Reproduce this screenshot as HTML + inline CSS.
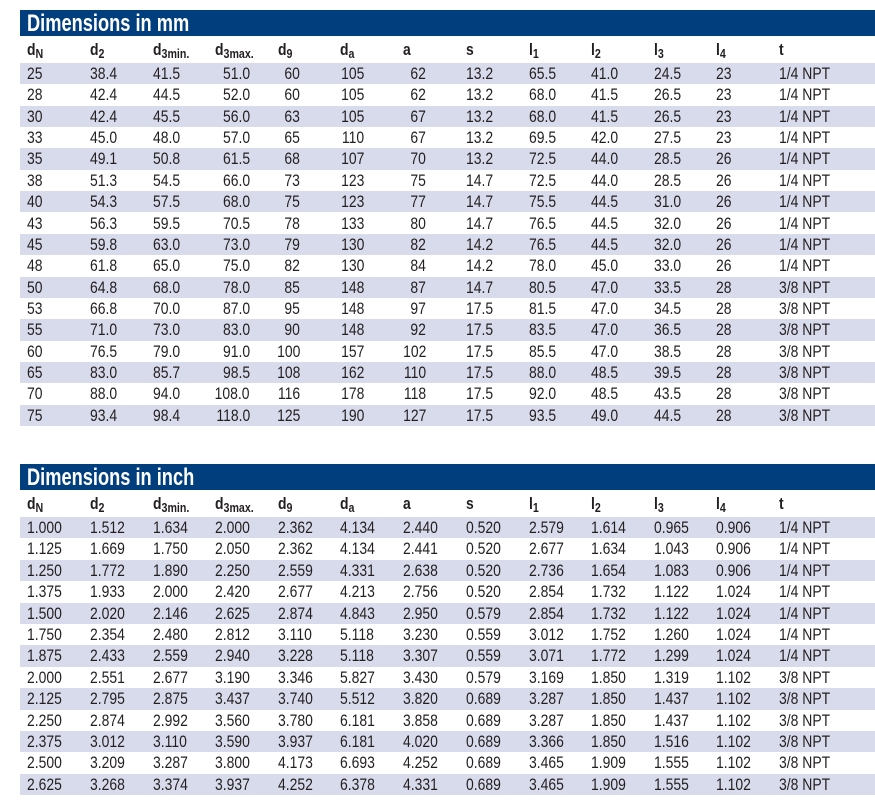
<!DOCTYPE html>
<html><head><meta charset="utf-8"><style>
body{margin:0;width:875px;height:808px;background:#fff;position:relative;overflow:hidden;font-family:"Liberation Sans",Arial,sans-serif;color:#231f20}
.bar{position:absolute;left:20px;width:855px;height:26px;background:#003e7e}
.bar span{position:absolute;left:7px;top:0;line-height:27px;font-size:24px;font-weight:bold;color:#fff;transform:scaleX(.76);transform-origin:left;white-space:nowrap}
.row{position:absolute;left:0;width:875px;height:21.4px}
.row.b{background:linear-gradient(to right,transparent 20px,#d8dbeb 20px)}
.row span{position:absolute;top:0;line-height:22px;font-size:17px;transform:scaleX(.82);transform-origin:left;white-space:nowrap}
.row span.R{transform-origin:right}
.h span{font-weight:bold;font-size:17px}
.h sub{font-size:13px;vertical-align:-3px}
.c1{left:27px}.c2{left:90px}.c3{left:153px}.c4{left:215px}.c5{left:278px}.c6{left:340px}.c7{left:403px}.c8{left:466px}.c9{left:529px}.c10{left:591px}.c11{left:654px}.c12{left:716px}.c13{left:779px}
.m .r4{right:625px}.m .r5{right:575px}.m .r6{right:511px}.m .r7{right:449px}
</style></head><body>
<div class="bar" style="top:10px"><span>Dimensions in mm</span></div>
<div class="row h" style="top:39px"><span class="c1">d<sub>N</sub></span><span class="c2">d<sub>2</sub></span><span class="c3">d<sub>3min.</sub></span><span class="c4">d<sub>3max.</sub></span><span class="c5">d<sub>9</sub></span><span class="c6">d<sub>a</sub></span><span class="c7">a</span><span class="c8">s</span><span class="c9">l<sub>1</sub></span><span class="c10">l<sub>2</sub></span><span class="c11">l<sub>3</sub></span><span class="c12">l<sub>4</sub></span><span class="c13">t</span></div>
<div class="m">
<div class="row b" style="top:63.0px"><span class="c1">25</span><span class="c2">38.4</span><span class="c3">41.5</span><span class="R r4">51.0</span><span class="R r5">60</span><span class="R r6">105</span><span class="R r7">62</span><span class="c8">13.2</span><span class="c9">65.5</span><span class="c10">41.0</span><span class="c11">24.5</span><span class="c12">23</span><span class="c13">1/4 NPT</span></div>
<div class="row" style="top:84.4px"><span class="c1">28</span><span class="c2">42.4</span><span class="c3">44.5</span><span class="R r4">52.0</span><span class="R r5">60</span><span class="R r6">105</span><span class="R r7">62</span><span class="c8">13.2</span><span class="c9">68.0</span><span class="c10">41.5</span><span class="c11">26.5</span><span class="c12">23</span><span class="c13">1/4 NPT</span></div>
<div class="row b" style="top:105.7px"><span class="c1">30</span><span class="c2">42.4</span><span class="c3">45.5</span><span class="R r4">56.0</span><span class="R r5">63</span><span class="R r6">105</span><span class="R r7">67</span><span class="c8">13.2</span><span class="c9">68.0</span><span class="c10">41.5</span><span class="c11">26.5</span><span class="c12">23</span><span class="c13">1/4 NPT</span></div>
<div class="row" style="top:127.1px"><span class="c1">33</span><span class="c2">45.0</span><span class="c3">48.0</span><span class="R r4">57.0</span><span class="R r5">65</span><span class="R r6">110</span><span class="R r7">67</span><span class="c8">13.2</span><span class="c9">69.5</span><span class="c10">42.0</span><span class="c11">27.5</span><span class="c12">23</span><span class="c13">1/4 NPT</span></div>
<div class="row b" style="top:148.4px"><span class="c1">35</span><span class="c2">49.1</span><span class="c3">50.8</span><span class="R r4">61.5</span><span class="R r5">68</span><span class="R r6">107</span><span class="R r7">70</span><span class="c8">13.2</span><span class="c9">72.5</span><span class="c10">44.0</span><span class="c11">28.5</span><span class="c12">26</span><span class="c13">1/4 NPT</span></div>
<div class="row" style="top:169.8px"><span class="c1">38</span><span class="c2">51.3</span><span class="c3">54.5</span><span class="R r4">66.0</span><span class="R r5">73</span><span class="R r6">123</span><span class="R r7">75</span><span class="c8">14.7</span><span class="c9">72.5</span><span class="c10">44.0</span><span class="c11">28.5</span><span class="c12">26</span><span class="c13">1/4 NPT</span></div>
<div class="row b" style="top:191.1px"><span class="c1">40</span><span class="c2">54.3</span><span class="c3">57.5</span><span class="R r4">68.0</span><span class="R r5">75</span><span class="R r6">123</span><span class="R r7">77</span><span class="c8">14.7</span><span class="c9">75.5</span><span class="c10">44.5</span><span class="c11">31.0</span><span class="c12">26</span><span class="c13">1/4 NPT</span></div>
<div class="row" style="top:212.5px"><span class="c1">43</span><span class="c2">56.3</span><span class="c3">59.5</span><span class="R r4">70.5</span><span class="R r5">78</span><span class="R r6">133</span><span class="R r7">80</span><span class="c8">14.7</span><span class="c9">76.5</span><span class="c10">44.5</span><span class="c11">32.0</span><span class="c12">26</span><span class="c13">1/4 NPT</span></div>
<div class="row b" style="top:233.8px"><span class="c1">45</span><span class="c2">59.8</span><span class="c3">63.0</span><span class="R r4">73.0</span><span class="R r5">79</span><span class="R r6">130</span><span class="R r7">82</span><span class="c8">14.2</span><span class="c9">76.5</span><span class="c10">44.5</span><span class="c11">32.0</span><span class="c12">26</span><span class="c13">1/4 NPT</span></div>
<div class="row" style="top:255.2px"><span class="c1">48</span><span class="c2">61.8</span><span class="c3">65.0</span><span class="R r4">75.0</span><span class="R r5">82</span><span class="R r6">130</span><span class="R r7">84</span><span class="c8">14.2</span><span class="c9">78.0</span><span class="c10">45.0</span><span class="c11">33.0</span><span class="c12">26</span><span class="c13">1/4 NPT</span></div>
<div class="row b" style="top:276.5px"><span class="c1">50</span><span class="c2">64.8</span><span class="c3">68.0</span><span class="R r4">78.0</span><span class="R r5">85</span><span class="R r6">148</span><span class="R r7">87</span><span class="c8">14.7</span><span class="c9">80.5</span><span class="c10">47.0</span><span class="c11">33.5</span><span class="c12">28</span><span class="c13">3/8 NPT</span></div>
<div class="row" style="top:297.9px"><span class="c1">53</span><span class="c2">66.8</span><span class="c3">70.0</span><span class="R r4">87.0</span><span class="R r5">95</span><span class="R r6">148</span><span class="R r7">97</span><span class="c8">17.5</span><span class="c9">81.5</span><span class="c10">47.0</span><span class="c11">34.5</span><span class="c12">28</span><span class="c13">3/8 NPT</span></div>
<div class="row b" style="top:319.2px"><span class="c1">55</span><span class="c2">71.0</span><span class="c3">73.0</span><span class="R r4">83.0</span><span class="R r5">90</span><span class="R r6">148</span><span class="R r7">92</span><span class="c8">17.5</span><span class="c9">83.5</span><span class="c10">47.0</span><span class="c11">36.5</span><span class="c12">28</span><span class="c13">3/8 NPT</span></div>
<div class="row" style="top:340.6px"><span class="c1">60</span><span class="c2">76.5</span><span class="c3">79.0</span><span class="R r4">91.0</span><span class="R r5">100</span><span class="R r6">157</span><span class="R r7">102</span><span class="c8">17.5</span><span class="c9">85.5</span><span class="c10">47.0</span><span class="c11">38.5</span><span class="c12">28</span><span class="c13">3/8 NPT</span></div>
<div class="row b" style="top:361.9px"><span class="c1">65</span><span class="c2">83.0</span><span class="c3">85.7</span><span class="R r4">98.5</span><span class="R r5">108</span><span class="R r6">162</span><span class="R r7">110</span><span class="c8">17.5</span><span class="c9">88.0</span><span class="c10">48.5</span><span class="c11">39.5</span><span class="c12">28</span><span class="c13">3/8 NPT</span></div>
<div class="row" style="top:383.3px"><span class="c1">70</span><span class="c2">88.0</span><span class="c3">94.0</span><span class="R r4">108.0</span><span class="R r5">116</span><span class="R r6">178</span><span class="R r7">118</span><span class="c8">17.5</span><span class="c9">92.0</span><span class="c10">48.5</span><span class="c11">43.5</span><span class="c12">28</span><span class="c13">3/8 NPT</span></div>
<div class="row b" style="top:404.6px"><span class="c1">75</span><span class="c2">93.4</span><span class="c3">98.4</span><span class="R r4">118.0</span><span class="R r5">125</span><span class="R r6">190</span><span class="R r7">127</span><span class="c8">17.5</span><span class="c9">93.5</span><span class="c10">49.0</span><span class="c11">44.5</span><span class="c12">28</span><span class="c13">3/8 NPT</span></div>
</div>
<div class="bar" style="top:464px"><span>Dimensions in inch</span></div>
<div class="row h" style="top:493px"><span class="c1">d<sub>N</sub></span><span class="c2">d<sub>2</sub></span><span class="c3">d<sub>3min.</sub></span><span class="c4">d<sub>3max.</sub></span><span class="c5">d<sub>9</sub></span><span class="c6">d<sub>a</sub></span><span class="c7">a</span><span class="c8">s</span><span class="c9">l<sub>1</sub></span><span class="c10">l<sub>2</sub></span><span class="c11">l<sub>3</sub></span><span class="c12">l<sub>4</sub></span><span class="c13">t</span></div>
<div class="row b" style="top:517.0px"><span class="c1">1.000</span><span class="c2">1.512</span><span class="c3">1.634</span><span class="c4">2.000</span><span class="c5">2.362</span><span class="c6">4.134</span><span class="c7">2.440</span><span class="c8">0.520</span><span class="c9">2.579</span><span class="c10">1.614</span><span class="c11">0.965</span><span class="c12">0.906</span><span class="c13">1/4 NPT</span></div>
<div class="row" style="top:538.4px"><span class="c1">1.125</span><span class="c2">1.669</span><span class="c3">1.750</span><span class="c4">2.050</span><span class="c5">2.362</span><span class="c6">4.134</span><span class="c7">2.441</span><span class="c8">0.520</span><span class="c9">2.677</span><span class="c10">1.634</span><span class="c11">1.043</span><span class="c12">0.906</span><span class="c13">1/4 NPT</span></div>
<div class="row b" style="top:559.8px"><span class="c1">1.250</span><span class="c2">1.772</span><span class="c3">1.890</span><span class="c4">2.250</span><span class="c5">2.559</span><span class="c6">4.331</span><span class="c7">2.638</span><span class="c8">0.520</span><span class="c9">2.736</span><span class="c10">1.654</span><span class="c11">1.083</span><span class="c12">0.906</span><span class="c13">1/4 NPT</span></div>
<div class="row" style="top:581.2px"><span class="c1">1.375</span><span class="c2">1.933</span><span class="c3">2.000</span><span class="c4">2.420</span><span class="c5">2.677</span><span class="c6">4.213</span><span class="c7">2.756</span><span class="c8">0.520</span><span class="c9">2.854</span><span class="c10">1.732</span><span class="c11">1.122</span><span class="c12">1.024</span><span class="c13">1/4 NPT</span></div>
<div class="row b" style="top:602.6px"><span class="c1">1.500</span><span class="c2">2.020</span><span class="c3">2.146</span><span class="c4">2.625</span><span class="c5">2.874</span><span class="c6">4.843</span><span class="c7">2.950</span><span class="c8">0.579</span><span class="c9">2.854</span><span class="c10">1.732</span><span class="c11">1.122</span><span class="c12">1.024</span><span class="c13">1/4 NPT</span></div>
<div class="row" style="top:624.0px"><span class="c1">1.750</span><span class="c2">2.354</span><span class="c3">2.480</span><span class="c4">2.812</span><span class="c5">3.110</span><span class="c6">5.118</span><span class="c7">3.230</span><span class="c8">0.559</span><span class="c9">3.012</span><span class="c10">1.752</span><span class="c11">1.260</span><span class="c12">1.024</span><span class="c13">1/4 NPT</span></div>
<div class="row b" style="top:645.4px"><span class="c1">1.875</span><span class="c2">2.433</span><span class="c3">2.559</span><span class="c4">2.940</span><span class="c5">3.228</span><span class="c6">5.118</span><span class="c7">3.307</span><span class="c8">0.559</span><span class="c9">3.071</span><span class="c10">1.772</span><span class="c11">1.299</span><span class="c12">1.024</span><span class="c13">1/4 NPT</span></div>
<div class="row" style="top:666.8px"><span class="c1">2.000</span><span class="c2">2.551</span><span class="c3">2.677</span><span class="c4">3.190</span><span class="c5">3.346</span><span class="c6">5.827</span><span class="c7">3.430</span><span class="c8">0.579</span><span class="c9">3.169</span><span class="c10">1.850</span><span class="c11">1.319</span><span class="c12">1.102</span><span class="c13">3/8 NPT</span></div>
<div class="row b" style="top:688.2px"><span class="c1">2.125</span><span class="c2">2.795</span><span class="c3">2.875</span><span class="c4">3.437</span><span class="c5">3.740</span><span class="c6">5.512</span><span class="c7">3.820</span><span class="c8">0.689</span><span class="c9">3.287</span><span class="c10">1.850</span><span class="c11">1.437</span><span class="c12">1.102</span><span class="c13">3/8 NPT</span></div>
<div class="row" style="top:709.6px"><span class="c1">2.250</span><span class="c2">2.874</span><span class="c3">2.992</span><span class="c4">3.560</span><span class="c5">3.780</span><span class="c6">6.181</span><span class="c7">3.858</span><span class="c8">0.689</span><span class="c9">3.287</span><span class="c10">1.850</span><span class="c11">1.437</span><span class="c12">1.102</span><span class="c13">3/8 NPT</span></div>
<div class="row b" style="top:731.0px"><span class="c1">2.375</span><span class="c2">3.012</span><span class="c3">3.110</span><span class="c4">3.590</span><span class="c5">3.937</span><span class="c6">6.181</span><span class="c7">4.020</span><span class="c8">0.689</span><span class="c9">3.366</span><span class="c10">1.850</span><span class="c11">1.516</span><span class="c12">1.102</span><span class="c13">3/8 NPT</span></div>
<div class="row" style="top:752.4px"><span class="c1">2.500</span><span class="c2">3.209</span><span class="c3">3.287</span><span class="c4">3.800</span><span class="c5">4.173</span><span class="c6">6.693</span><span class="c7">4.252</span><span class="c8">0.689</span><span class="c9">3.465</span><span class="c10">1.909</span><span class="c11">1.555</span><span class="c12">1.102</span><span class="c13">3/8 NPT</span></div>
<div class="row b" style="top:773.8px"><span class="c1">2.625</span><span class="c2">3.268</span><span class="c3">3.374</span><span class="c4">3.937</span><span class="c5">4.252</span><span class="c6">6.378</span><span class="c7">4.331</span><span class="c8">0.689</span><span class="c9">3.465</span><span class="c10">1.909</span><span class="c11">1.555</span><span class="c12">1.102</span><span class="c13">3/8 NPT</span></div>
</body></html>
